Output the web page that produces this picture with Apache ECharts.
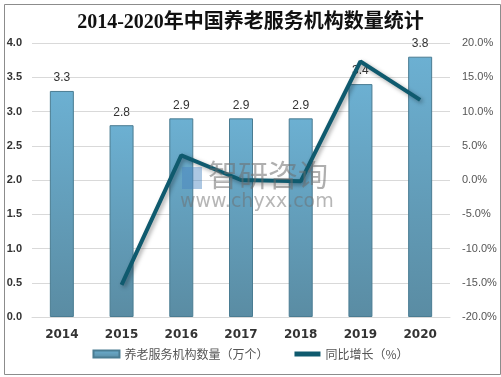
<!DOCTYPE html>
<html>
<head>
<meta charset="utf-8">
<script src="https://cdn.jsdelivr.net/npm/echarts@6/dist/echarts.min.js"></script>
<style>
  html, body { margin: 0; padding: 0; background: #fff; }
  #chart { width: 501px; height: 377px; }
</style>
</head>
<body>
<div id="chart"></div>
<script>
 // 数据
 var years = ['2014','2015','2016','2017','2018','2019','2020'];
 var counts = [3.3, 2.8, 2.9, 2.9, 2.9, 3.4, 3.8];      // 养老服务机构数量（万个）
 var growth = [null, -15.3, 3.6, 0.0, -0.2, 17.3, 11.7]; // 同比增长（%）
 var leftTicks = [0, 4, 0.5];
 var rightTicks = [-20, 20, 5];

 var myChart = echarts.init(document.getElementById('chart'));

 var option = {
    backgroundColor: '#fff',
    animation: false,
    title: {
        text: '2014-2020年中国养老服务机构数量统计',
        left: 'center',
        top: 8,
        textStyle: {
            fontFamily: 'Liberation Serif, Noto Sans CJK SC',
            fontSize: 20,
            fontWeight: 'bold',
            color: '#111'
        }
    },
    grid: { left: 32, right: 51, top: 43, bottom: 60 },
    legend: {
        bottom: 12,
        left: 'center',
        itemGap: 26,
        itemWidth: 26,
        itemHeight: 7,
        textStyle: { color: '#555', fontSize: 12, fontFamily: 'Noto Sans CJK SC' },
        data: [
            { name: '养老服务机构数量（万个）', icon: 'rect' },
            { name: '同比增长（%）', icon: 'path://M0,0 L26,0 L26,5 L0,5 Z' }
        ]
    },
    xAxis: {
        type: 'category',
        data: years,
        axisLine: { lineStyle: { color: '#d9d9d9' } },
        axisTick: { show: false },
        axisLabel: { color: '#333', fontWeight: 'bold', fontSize: 12, margin: 12, fontFamily: 'DejaVu Sans' }
    },
    yAxis: [{
        type: 'value',
        min: leftTicks[0], max: leftTicks[1], interval: leftTicks[2],
        axisLine: { show: false },
        axisTick: { show: false },
        splitLine: { lineStyle: { color: '#d9d9d9' } },
        axisLabel: {
            color: '#333', fontWeight: 'bold', fontSize: 11, margin: 10,
            fontFamily: 'Liberation Sans',
            formatter: function (v) { return v.toFixed(1); }
        }
    }, {
        type: 'value',
        min: rightTicks[0], max: rightTicks[1], interval: rightTicks[2],
        axisLine: { show: false },
        axisTick: { show: false },
        splitLine: { show: false },
        axisLabel: {
            color: '#555', fontSize: 11, margin: 12,
            fontFamily: 'Liberation Sans',
            formatter: function (v) { return v.toFixed(1) + '%'; }
        }
    }],
    series: [{
        name: '养老服务机构数量（万个）',
        type: 'bar',
        data: counts,
        barWidth: 24,
        itemStyle: {
            color: new echarts.graphic.LinearGradient(0, 0, 0, 1, [
                { offset: 0, color: '#6cb0d2' },
                { offset: 1, color: '#5a8ca3' }
            ]),
            borderColor: '#4a7c92',
            borderWidth: 1
        },
        label: {
            show: true,
            position: 'top',
            distance: 7,
            color: '#333',
            fontSize: 12,
            fontFamily: 'Liberation Sans',
            formatter: function (p) { return p.value.toFixed(1); }
        }
    }, {
        name: '同比增长（%）',
        type: 'line',
        yAxisIndex: 1,
        data: growth,
        symbol: 'none',
        lineStyle: {
            color: '#0f5a6e',
            width: 4,
            shadowColor: 'rgba(0,0,0,0.35)',
            shadowBlur: 4,
            shadowOffsetX: 2,
            shadowOffsetY: 2
        },
        itemStyle: { color: '#0f5a6e' }
    }],
    graphic: [{
        type: 'rect',
        left: 2, top: 2,
        shape: { width: 496, height: 370 },
        style: { fill: 'none', stroke: '#8c8c8c', lineWidth: 1 },
        silent: true
    }, {
        type: 'text',
        left: 208, top: 160,
        z: 100,
        style: {
            text: '智研咨询',
            font: '30px "Noto Sans CJK SC"',
            fill: 'rgba(110,110,110,0.55)'
        },
        silent: true
    }, {
        type: 'text',
        left: 180, top: 193,
        z: 100,
        style: {
            text: 'www.chyxx.com',
            font: '19px "DejaVu Sans"',
            fill: 'rgba(110,110,110,0.5)'
        },
        silent: true
    }, {
        type: 'rect',
        left: 182, top: 167,
        z: 100,
        shape: { width: 20, height: 22 },
        style: { fill: 'rgba(70,130,190,0.45)' },
        silent: true
    }]
 };

 myChart.setOption(option);
</script>
</body>
</html>
